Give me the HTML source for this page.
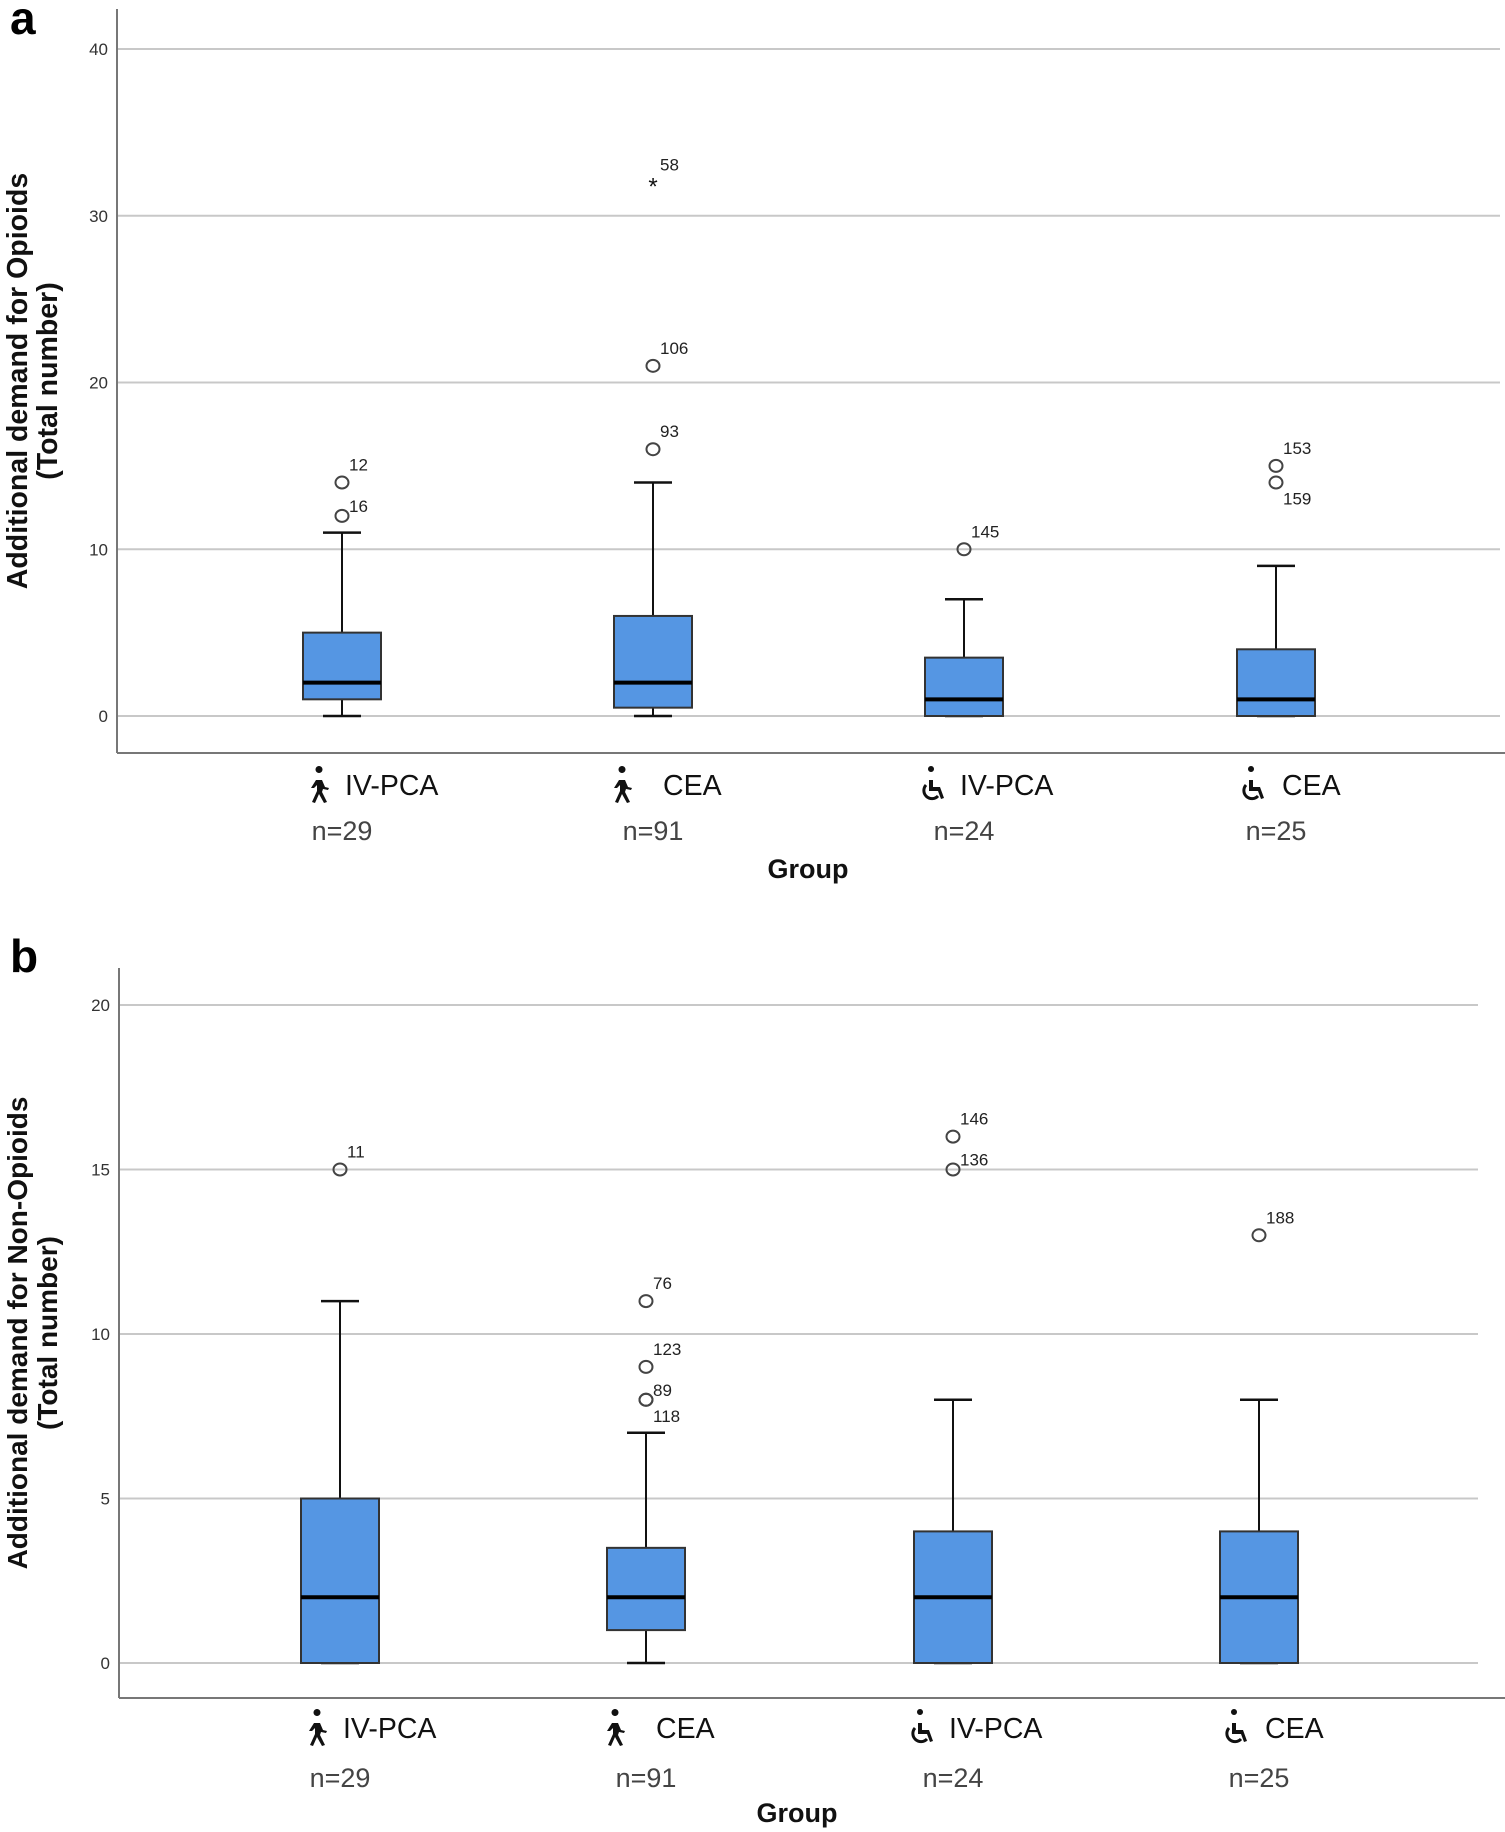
<!DOCTYPE html>
<html><head><meta charset="utf-8"><style>
body{margin:0;background:#fff;}
svg{display:block;font-family:"Liberation Sans",Arial,sans-serif;}
</style></head><body>
<svg id="chart" width="1505" height="1832" viewBox="0 0 1505 1832">
<text x="10" y="34" font-size="46" font-weight="bold">a</text>
<text x="10" y="972" font-size="46" font-weight="bold">b</text>
</svg>
<script>
const categories = ["IV-PCA","CEA","IV-PCA","CEA"];
const icons = ["walk","walk","wheel","wheel"];
const counts = ["n=29","n=91","n=24","n=25"];
// panel a: opioids
const aMin = [0,0,0,0];
const aQ1 = [1,0.5,0,0];
const aMed = [2,2,1,1];
const aQ3 = [5,6,3.5,4];
const aMax = [11,14,7,9];
const aOutliers = [
  [{v:14,id:"12",pos:"up"},{v:12,id:"16",pos:"upmid"}],
  [{v:16,id:"93",pos:"up"},{v:21,id:"106",pos:"up"},{v:32,id:"58",pos:"up",star:true}],
  [{v:10,id:"145",pos:"up"}],
  [{v:15,id:"153",pos:"up"},{v:14,id:"159",pos:"down"}]
];
const aTicks = [0,10,20,30,40];
// panel b: non-opioids
const bMin = [0,0,0,0];
const bQ1 = [0,1,0,0];
const bMed = [2,2,2,2];
const bQ3 = [5,3.5,4,4];
const bMax = [11,7,8,8];
const bOutliers = [
  [{v:15,id:"11",pos:"up"}],
  [{v:11,id:"76",pos:"up"},{v:9,id:"123",pos:"up"},{v:8,id:"89",pos:"upmid"},{v:8,id:"118",pos:"down"}],
  [{v:16,id:"146",pos:"up"},{v:15,id:"136",pos:"upmid"}],
  [{v:13,id:"188",pos:"up"}]
];
const bTicks = [0,5,10,15,20];

const svg = document.getElementById('chart');
const NS = "http://www.w3.org/2000/svg";
function mk(tag, attrs, parent){
  const e = document.createElementNS(NS, tag);
  for (const k in attrs) e.setAttribute(k, attrs[k]);
  (parent||svg).appendChild(e);
  return e;
}

function drawIcon(kind, x, y, g){
  if (kind === "walk"){
    const p = mk('path',{d:`M${x+11} ${y+2} a3.5 3.5 0 1 1 0.01 0 Z M${x+8} ${y+9} L${x+14} ${y+9} L${x+17} ${y+16} L${x+21} ${y+17} L${x+20} ${y+19} L${x+15} ${y+18} L${x+14} ${y+21} L${x+19} ${y+31} L${x+16} ${y+32} L${x+11} ${y+23} L${x+7} ${y+32} L${x+4} ${y+31} L${x+9} ${y+20} L${x+9} ${y+14} L${x+6} ${y+17} L${x+3} ${y+17} Z`, fill:'#111'}, g);
    
    
  } else {
    const p = mk('path',{d:`M${x+11} ${y+1} a3 3 0 1 1 0.01 0 Z M${x+9} ${y+9} L${x+13} ${y+9} L${x+13} ${y+16} L${x+20} ${y+16} L${x+24} ${y+27} L${x+21} ${y+28} L${x+18} ${y+20} L${x+9} ${y+20} Z`, fill:'#111'}, g);
    
    
    const c = mk('path',{d:`M${x+6} ${y+14} A8 8 0 1 0 ${x+18} ${y+25}`, fill:'none', stroke:'#111','stroke-width':3}, g);
    
    
  }
}

function panel(cfg){
  const {name, axisX, axisTop, axisBottom, gridRight, yMax, yPix0, yPixMax, cx, ticks, mins,q1s,meds,q3s,maxs,outs, catY, nY, groupX, groupY, title1, title2, titleY, titleSize} = cfg;
  const g = mk('g',{});
  
  
  const y = v => yPix0 + (yPixMax - yPix0) * v / yMax;
  ticks.forEach(t=>{
    const l = mk('line',{x1:axisX,x2:gridRight,y1:y(t),y2:y(t),stroke:'#c8c8c8','stroke-width':2},g);
    
    
    const tx = mk('text',{x:axisX-9,y:y(t)+6,'font-size':17,'text-anchor':'end',fill:'#333'},g);
    tx.textContent = t;
    
    
  });
  const ya = mk('line',{x1:axisX,x2:axisX,y1:axisTop,y2:axisBottom,stroke:'#777','stroke-width':2},g);
  
  
  const xa = mk('line',{x1:axisX,x2:1505,y1:axisBottom,y2:axisBottom,stroke:'#777','stroke-width':2},g);
  
  
  const bw = 78, cap = 38;
  const textOff = [3, 10, -4, 6];
  const iconOff = [-34, -42, -44, -36];
  cx.forEach((c,i)=>{
    const bg = mk('g',{},g);
    
    
    mk('line',{x1:c,x2:c,y1:y(maxs[i]),y2:y(q3s[i]),stroke:'#111','stroke-width':2},bg);
    mk('line',{x1:c,x2:c,y1:y(q1s[i]),y2:y(mins[i]),stroke:'#111','stroke-width':2},bg);
    mk('line',{x1:c-cap/2,x2:c+cap/2,y1:y(maxs[i]),y2:y(maxs[i]),stroke:'#111','stroke-width':2.5},bg);
    mk('line',{x1:c-cap/2,x2:c+cap/2,y1:y(mins[i]),y2:y(mins[i]),stroke:'#111','stroke-width':2.5},bg);
    const r = mk('rect',{x:c-bw/2,y:y(q3s[i]),width:bw,height:Math.max(1,y(q1s[i])-y(q3s[i])),fill:'#5596e3',stroke:'#333','stroke-width':2},bg);
    
    
    const m = mk('line',{x1:c-bw/2,x2:c+bw/2,y1:y(meds[i]),y2:y(meds[i]),stroke:'#000','stroke-width':4},bg);
    
    
    outs[i].forEach(o=>{
      const oy = y(o.v);
      if (o.star){
        const s = mk('text',{x:c,y:oy+12,'font-size':24,'text-anchor':'middle',fill:'#111'},bg);
        s.textContent='*';
        
        
      } else {
        const ci = mk('ellipse',{cx:c,cy:oy,rx:6.5,ry:6,fill:'none',stroke:'#444','stroke-width':2},bg);
        
        
      }
      const dy = o.pos==='up' ? -12 : (o.pos==='upmid' ? -4 : 22);
      const lt = mk('text',{x:c+7,y:oy+dy,'font-size':17,fill:'#222'},bg);
      lt.textContent = o.id;
      
      
    });
    drawIcon(icons[i], c+iconOff[i], catY-24, g);
    const ct = mk('text',{x:c+textOff[i],y:catY,'font-size':28.5,fill:'#111'},g);
    ct.textContent = categories[i];
    
    
    const nt = mk('text',{x:c,y:nY,'font-size':27,fill:'#444','text-anchor':'middle'},g);
    nt.textContent = counts[i];
    
    
  });
  const gt = mk('text',{x:groupX,y:groupY,'font-size':27,'font-weight':'bold','text-anchor':'middle',fill:'#111'},g);
  gt.textContent='Group';
  
  
  const yt = mk('text',{transform:`translate(27,${titleY}) rotate(-90)`,'font-size':titleSize,'font-weight':'bold','text-anchor':'middle',fill:'#111'},g);
  
  
  const t1 = mk('tspan',{x:0,y:0},yt); t1.textContent=title1;
  const t2 = mk('tspan',{x:0,y:30},yt); t2.textContent=title2;
}

panel({name:'panel-a-opioids', axisX:117, axisTop:9, axisBottom:753, gridRight:1500, yMax:40, yPix0:716, yPixMax:49,
  cx:[342,653,964,1276], ticks:aTicks, mins:aMin,q1s:aQ1,meds:aMed,q3s:aQ3,maxs:aMax,outs:aOutliers,
  catY:795, nY:840, groupX:808, groupY:878, title1:'Additional demand for Opioids', title2:'(Total number)', titleY:381, titleSize:28.5});
panel({name:'panel-b-non-opioids', axisX:119, axisTop:968, axisBottom:1698, gridRight:1478, yMax:20, yPix0:1663, yPixMax:1005,
  cx:[340,646,953,1259], ticks:bTicks, mins:bMin,q1s:bMin.map((v,i)=>bQ1[i]),meds:bMed,q3s:bQ3,maxs:bMax,outs:bOutliers,
  catY:1738, nY:1787, groupX:797, groupY:1822, title1:'Additional demand for Non-Opioids', title2:'(Total number)', titleY:1333, titleSize:28});
</script>
</body></html>
